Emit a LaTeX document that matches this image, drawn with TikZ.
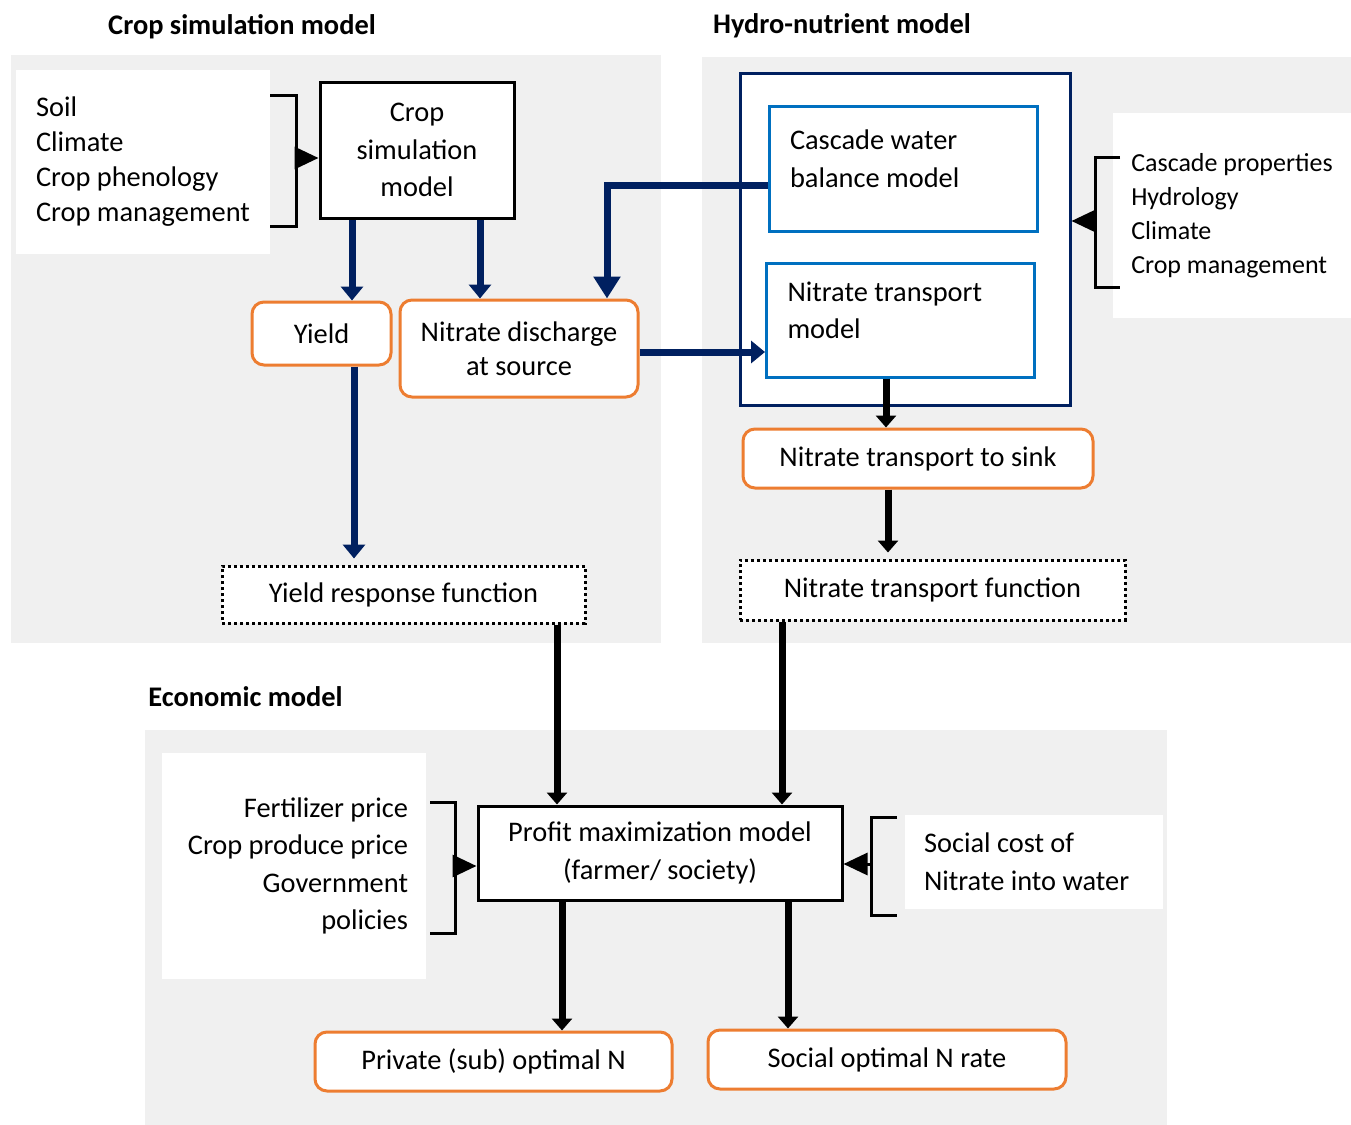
\documentclass[tikz,border=0pt]{standalone}
\usepackage{fontspec}
\setmainfont{Carlito}
\usepackage{tikz}
\usetikzlibrary{arrows.meta, positioning, calc}
\definecolor{orangebox}{RGB}{237,125,49}
\definecolor{navyline}{RGB}{0,32,96}
\definecolor{bluebox}{RGB}{0,112,192}
\definecolor{panelgray}{RGB}{240,240,240}

\begin{document}
\begin{tikzpicture}[x=0.5pt, y=-0.5pt,
    every node/.style={font=\fontsize{14.2}{18.8}\selectfont},
    title/.style={font=\fontsize{14.2}{17}\selectfont\bfseries},
    blackbox/.style={draw=black, line width=1.5pt, fill=white, align=center},
    outbox/.style={draw=orangebox, line width=1.5pt, rounded corners=6pt, fill=white, align=center},
    fnbox/.style={draw=black, line width=1.5pt, dash pattern=on 1.5pt off 1.5pt, fill=white},
    subbox/.style={draw=bluebox, line width=1.5pt, fill=white, align=flush left, inner xsep=10.5pt, text width=113pt, text depth=28.5pt},
    inbox/.style={fill=white},
    navarrow/.style={draw=navyline, line width=3.5pt, -{Triangle[width=11pt,length=7pt]}},
    blkarrow/.style={draw=black, line width=3.5pt, -{Triangle[width=10pt,length=6pt]}},
    brkt/.style={draw=black, line width=1.5pt},
    brtip/.style={draw=black, line width=1.5pt, -{Triangle[width=11pt,length=12pt]}}]
    \useasboundingbox (0,0) rectangle (1351,1125);

    % Paineis
    \fill[panelgray] (11,55) rectangle (661,643);
    \fill[panelgray] (702,57) rectangle (1351,643);
    \fill[panelgray] (145,730) rectangle (1167,1125);

    % Titulos
    \node[title] (croptitle) at (242,27) {Crop simulation model};
    \node[title] (hydrotitle) at (842,26) {Hydro-nutrient model};
    \node[title, anchor=west, inner sep=0pt] (econtitle) at (148,697) {Economic model};

    % Modelo de cultura
    \node[inbox, minimum width=127pt, minimum height=92pt, align=left, font=\fontsize{14.2}{17.5}\selectfont] (cropin) at (143,162) {Soil\\Climate\\Crop phenology\\Crop management};
    \node[blackbox, minimum width=97pt, minimum height=68pt] (cropsim) at (417,150) {Crop\\simulation\\model};
    \node[outbox, minimum width=69.5pt, minimum height=31.5pt] (yield) at (321.5,333.5) {Yield};
    \node[outbox, minimum width=119pt, minimum height=48.5pt, font=\fontsize{14.2}{17}\selectfont] (discharge) at (519,348.5) {Nitrate discharge\\at source};
    \node[fnbox, minimum width=181.5pt, minimum height=28.5pt] (yrf) at (403.5,594.5) {Yield response function};

    % Modelo hidro-nutriente
    \node[draw=navyline, line width=1.5pt, fill=white, minimum width=165pt, minimum height=166pt] (hydro) at (905,239) {};
    \node[subbox, minimum height=62.5pt] (cascade) at (903,168.5) {Cascade water\\balance model};
    \node[subbox, minimum height=57pt] (ntrans) at (900.5,320) {Nitrate transport\\model};
    \node[outbox, minimum width=175pt, minimum height=29.5pt] (sink) at (918,458.5) {Nitrate transport to sink};
    \node[fnbox, minimum width=192.5pt, minimum height=30pt] (ntf) at (932.5,590) {Nitrate transport function};
    \node[inbox, minimum width=119pt, minimum height=102.5pt, align=left, font=\fontsize{13}{17}\selectfont] (hydroin) at (1232,215.5) {Cascade properties\\Hydrology\\Climate\\Crop management};

    % Modelo economico
    \node[blackbox, minimum width=182pt, minimum height=47pt] (profit) at (660,853) {Profit maximization model\\(farmer/ society)};
    \node[inbox, minimum width=132pt, minimum height=113pt, align=flush right, inner xsep=9pt, text width=114pt] (econin) at (294,866) {Fertilizer price\\Crop produce price\\Government\\policies};
    \node[inbox, minimum width=129pt, minimum height=47pt, align=flush left, inner xsep=9.5pt, text width=110pt] (costin) at (1034,862) {Social cost of\\Nitrate into water};
    \node[outbox, minimum width=178.5pt, minimum height=29.5pt] (private) at (493.5,1061.5) {Private (sub) optimal N};
    \node[outbox, minimum width=179pt, minimum height=29.5pt] (social) at (887,1059.5) {Social optimal N rate};

    % Chaves
    \draw[brkt] (270,95) -| (296,226) -- (270,226);
    \coordinate (cropbr) at (296,158);
    \draw[brtip] (cropbr) -- (cropbr -| cropsim.west);
    \draw[brkt] (1120,157) -| (1095,287) -- (1120,287);
    \coordinate (hydrobr) at (1095,221);
    \draw[brtip] (hydrobr) -- (hydrobr -| hydro.east);
    \draw[brkt] (430,802) -| (455,933) -- (430,933);
    \coordinate (econbr) at (455,866);
    \draw[brtip] (econbr) -- (econbr -| profit.west);
    \draw[brkt] (897,817) -| (871,915) -- (897,915);
    \coordinate (costbr) at (871,864);
    \draw[brtip] (costbr) -- (costbr -| profit.east);

    % Setas
    \draw[navarrow] (cropsim.south -| 352,0) -- (yield.north -| 352,0);
    \draw[navarrow] (cropsim.south -| 480,0) -- (discharge.north -| 480,0);
    \draw[navarrow, shorten >=3pt] (yield.south -| 354,0) -- (yrf.north -| 354,0);
    \draw[navarrow, -{Triangle[width=13pt,length=11pt]}] (cascade.west |- 0,185) -| (discharge.north -| 607,0);
    \draw[navarrow] (discharge.east |- 0,352) -- (ntrans.west |- 0,352);
    \draw[blkarrow] (ntrans.south -| 886,0) -- (sink.north -| 886,0);
    \draw[blkarrow, shorten >=3pt] (sink.south -| 888,0) -- (ntf.north -| 888,0);
    \draw[blkarrow] (yrf.south -| 557,0) -- (profit.north -| 557,0);
    \draw[blkarrow] (ntf.south -| 782,0) -- (profit.north -| 782,0);
    \draw[blkarrow] (profit.south -| 562,0) -- (private.north -| 562,0);
    \draw[blkarrow] (profit.south -| 788,0) -- (social.north -| 788,0);
\end{tikzpicture}
\end{document}
